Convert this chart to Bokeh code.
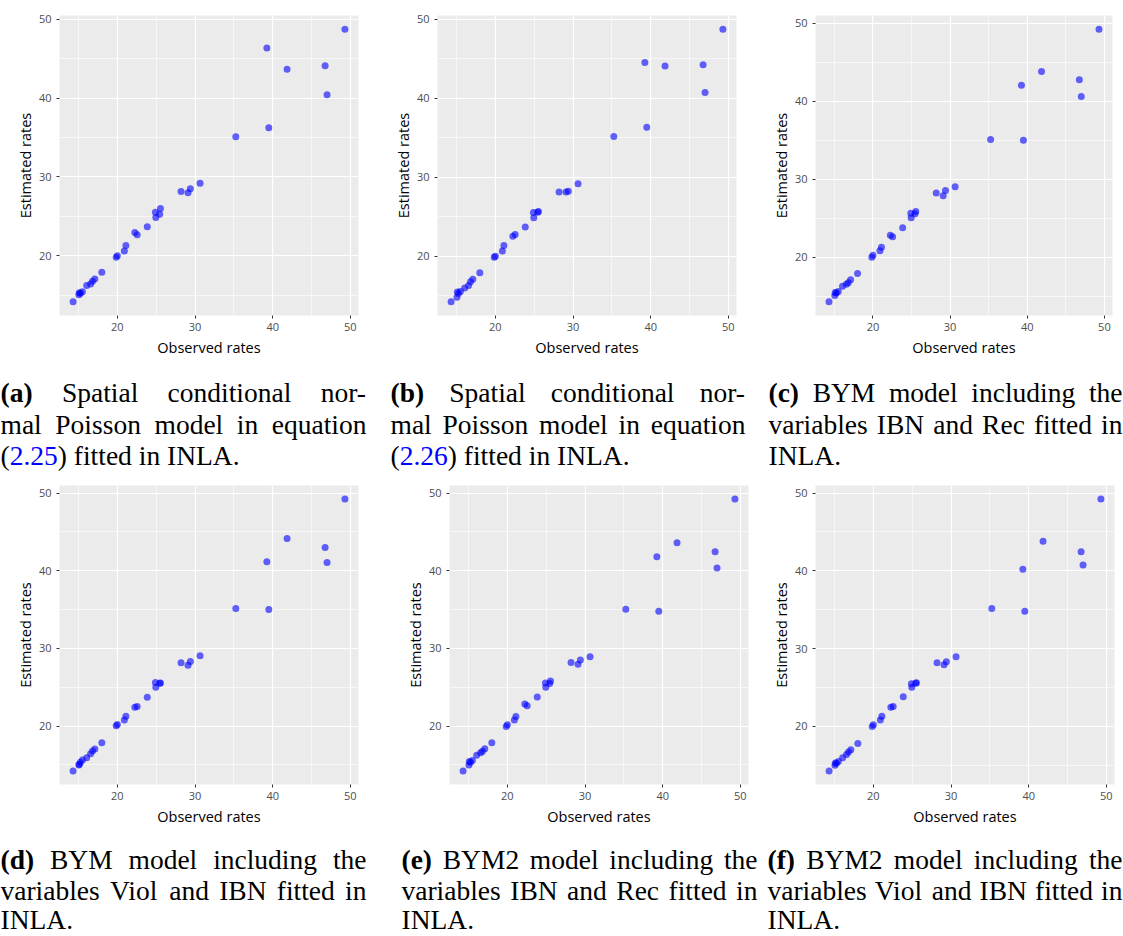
from bokeh.plotting import figure
from bokeh.layouts import column, row
from bokeh.models import Range1d, FixedTicker, ColumnDataSource
from bokeh.core.properties import value
from bokeh.embed import file_html
from bokeh.resources import INLINE

# Observed rates (shared by every panel)
observed = [14.3, 15.05, 15.1, 15.25, 15.5, 16.05, 16.55, 16.8, 17.1, 18.0,
            19.85, 20.0, 20.9, 21.1, 22.25, 22.55, 23.85, 24.9, 24.95, 25.45,
            25.55, 28.2, 29.1, 29.4, 30.65, 35.25, 39.25, 39.5, 41.85, 46.75,
            47.0, 49.3]

# Estimated rates for each fitted model
est_a = [14.16, 15.05, 15.3, 15.25, 15.45, 16.22, 16.43, 16.77, 17.06, 17.9,
         19.8, 20.01, 20.6, 21.32, 22.96, 22.67, 23.68, 25.53, 24.86, 25.28,
         26.0, 28.15, 27.98, 28.5, 29.2, 35.1, 46.33, 36.24, 43.63, 44.09,
         40.42, 48.73]
est_b = [14.25, 14.83, 15.5, 15.3, 15.57, 15.99, 16.32, 16.79, 17.12, 17.92,
         19.9, 20.03, 20.7, 21.37, 22.54, 22.79, 23.71, 25.56, 24.89, 25.6,
         25.69, 28.16, 28.16, 28.24, 29.2, 35.17, 44.55, 36.35, 44.09, 44.25,
         40.75, 48.77]
est_c = [14.27, 15.09, 15.47, 15.4, 15.6, 16.28, 16.54, 16.71, 17.09, 17.91,
         20.0, 20.26, 20.81, 21.28, 22.82, 22.61, 23.76, 25.64, 25.04, 25.56,
         25.85, 28.21, 27.86, 28.55, 29.02, 35.09, 42.05, 35.0, 43.8, 42.74,
         40.6, 49.23]
est_d = [14.23, 15.0, 15.09, 15.34, 15.64, 15.94, 16.45, 16.79, 17.05, 17.86,
         20.04, 20.21, 20.77, 21.28, 22.44, 22.52, 23.72, 25.6, 25.0, 25.51,
         25.55, 28.16, 27.82, 28.33, 29.06, 35.15, 41.17, 35.02, 44.15, 43.0,
         41.08, 49.23]
est_e = [14.23, 15.0, 15.43, 15.34, 15.56, 16.24, 16.58, 16.75, 17.09, 17.86,
         19.96, 20.17, 20.77, 21.24, 22.86, 22.61, 23.76, 25.56, 25.0, 25.47,
         25.81, 28.2, 27.95, 28.5, 28.93, 35.06, 41.8, 34.8, 43.6, 42.45,
         40.36, 49.23]
est_f = [14.28, 15.0, 15.3, 15.25, 15.5, 15.98, 16.4, 16.71, 17.0, 17.82,
         20.0, 20.21, 20.81, 21.32, 22.48, 22.57, 23.8, 25.5, 25.03, 25.55,
         25.6, 28.2, 27.93, 28.3, 28.95, 35.15, 40.2, 34.8, 43.8, 42.45,
         40.74, 49.23]

major_ticks = [20, 30, 40, 50]
minor_ticks = [15, 25, 35, 45]

caption_labels = ["(a)", "(b)", "(c)", "(d)", "(e)", "(f)"]
# Square brackets mark the cross-reference shown in link colour
caption_lines = [
    ["Spatial conditional nor-", "mal Poisson model in equation", "([2.25]) fitted in INLA."],
    ["Spatial conditional nor-", "mal Poisson model in equation", "([2.26]) fitted in INLA."],
    ["BYM model including the", "variables IBN and Rec fitted in", "INLA."],
    ["BYM model including the", "variables Viol and IBN fitted in", "INLA."],
    ["BYM2 model including the", "variables IBN and Rec fitted in", "INLA."],
    ["BYM2 model including the", "variables Viol and IBN fitted in", "INLA."],
]

SANS = "Open Sans"
SERIF = "Liberation Serif"
CAP_FS = 27.5


def expanded(vals, frac=0.05):
    lo, hi = min(vals), max(vals)
    pad = (hi - lo) * frac
    return lo - pad, hi + pad


def scatter_panel(est, width, height, left, right, top, bottom):
    x0, x1 = expanded(observed)
    y0, y1 = expanded(est)
    p = figure(width=width, height=height, x_range=Range1d(x0, x1), y_range=Range1d(y0, y1),
               output_backend="svg", toolbar_location=None,
               min_border_left=left, min_border_right=right,
               min_border_top=top, min_border_bottom=bottom)
    p.background_fill_color = "#EBEBEB"
    p.border_fill_color = "white"
    p.outline_line_color = None
    for ax in (p.xaxis, p.yaxis):
        ax.ticker = FixedTicker(ticks=major_ticks, minor_ticks=minor_ticks)
        ax.axis_line_color = None
        ax.major_tick_line_color = "#333333"
        ax.major_tick_line_width = 1
        ax.major_tick_out = 3
        ax.major_tick_in = 0
        ax.minor_tick_out = 0
        ax.minor_tick_in = 0
        ax.major_label_text_font = SANS
        ax.major_label_text_font_size = "11px"
        ax.major_label_text_color = "#4D4D4D"
        ax.axis_label_text_font = SANS
        ax.axis_label_text_font_size = "14.5px"
        ax.axis_label_text_font_style = "normal"
        ax.axis_label_text_color = "black"
    p.xaxis.major_label_standoff = 4
    p.yaxis.major_label_standoff = 5
    p.xaxis.axis_label_standoff = 4
    p.yaxis.axis_label_standoff = 1
    p.xaxis.axis_label = "Observed rates"
    p.yaxis.axis_label = "Estimated rates"
    p.grid.grid_line_color = "white"
    p.grid.grid_line_width = 1.2
    p.grid.minor_grid_line_color = "white"
    p.grid.minor_grid_line_width = 0.6
    p.scatter(observed, est, size=7, fill_color="blue", fill_alpha=0.6, line_color=None)
    return p


# Advance widths (per 1000 em) of the serif face used in the captions
REGULAR = {' ': 250, '(': 333, ')': 333, '.': 250, '-': 333,
           'A': 722, 'B': 667, 'I': 333, 'L': 611, 'M': 889, 'N': 722, 'P': 556,
           'R': 667, 'S': 556, 'V': 722, 'Y': 722,
           'a': 444, 'b': 500, 'c': 444, 'd': 500, 'e': 444, 'f': 333, 'g': 500,
           'h': 500, 'i': 278, 'l': 278, 'm': 778, 'n': 500, 'o': 500, 'p': 500,
           'q': 500, 'r': 333, 's': 389, 't': 278, 'u': 500, 'v': 500}
BOLD = {'(': 333, ')': 333, 'a': 500, 'b': 556, 'c': 444, 'd': 556, 'e': 444, 'f': 333}


def run_width(text, style):
    table = BOLD if style == "bold" else REGULAR
    return sum(table.get(ch, 500) for ch in text) * CAP_FS / 1000.0


def parse_word(word):
    runs, buf, blue = [], "", False
    for ch in word:
        if ch in "[]":
            if buf:
                runs.append((buf, "normal", "#0000FF" if blue else "black"))
            buf, blue = "", ch == "["
        else:
            buf += ch
    if buf:
        runs.append((buf, "normal", "#0000FF" if blue else "black"))
    return runs


def caption_source(entries, baselines):
    data = dict(x=[], y=[], text=[], style=[], color=[])
    for label, lines, (cx0, cx1) in entries:
        for li, line in enumerate(lines):
            words = [parse_word(w) for w in line.split(" ")]
            if li == 0:
                words = [[(label, "bold", "black")]] + words
            widths = [sum(run_width(t, s) for t, s, _ in w) for w in words]
            if li < len(lines) - 1 and len(words) > 1:
                gap = (cx1 - cx0 - sum(widths)) / (len(words) - 1)
            else:
                gap = run_width(" ", "normal")
            x = cx0
            for w in words:
                for t, s, c in w:
                    data["x"].append(x)
                    data["y"].append(baselines[li])
                    data["text"].append(t)
                    data["style"].append(s)
                    data["color"].append(c)
                    x += run_width(t, s)
                x += gap
    return ColumnDataSource(data)


def caption_strip(height, entries, baselines):
    p = figure(width=1123, height=height, x_range=Range1d(0, 1123), y_range=Range1d(height, 0),
               output_backend="svg", toolbar_location=None, x_axis_type=None, y_axis_type=None,
               min_border=0)
    p.grid.visible = False
    p.outline_line_color = None
    p.background_fill_color = "white"
    p.border_fill_color = "white"
    src = caption_source(entries, baselines)
    p.text(x="x", y="y", text="text", source=src, text_font=value(SERIF),
           text_font_size=value(f"{CAP_FS}px"), text_font_style="style",
           text_color="color", text_baseline="alphabetic", text_align="left")
    return p


fa = scatter_panel(est_a, 378, 360, 59, 20, 15, 45)
fb = scatter_panel(est_b, 378, 360, 59, 20, 15, 45)
fc = scatter_panel(est_c, 367, 360, 59, 11, 15, 45)

fd = scatter_panel(est_d, 378, 354, 59, 20, 10, 45)
fe = scatter_panel(est_e, 378, 354, 71, 8, 10, 45)
ff = scatter_panel(est_f, 367, 354, 59, 9, 10, 45)

cap_top = caption_strip(115, [
    (caption_labels[0], caption_lines[0], (0, 366)),
    (caption_labels[1], caption_lines[1], (390, 745)),
    (caption_labels[2], caption_lines[2], (768, 1122)),
], [32, 63.5, 95])

cap_bottom = caption_strip(107, [
    (caption_labels[3], caption_lines[3], (0, 366)),
    (caption_labels[4], caption_lines[4], (401, 757)),
    (caption_labels[5], caption_lines[5], (767, 1122)),
], [30, 61, 90])

layout = column(row(fa, fb, fc), cap_top, row(fd, fe, ff), cap_bottom)

with open("out.html", "w") as fh:
    fh.write(file_html(layout, INLINE))
